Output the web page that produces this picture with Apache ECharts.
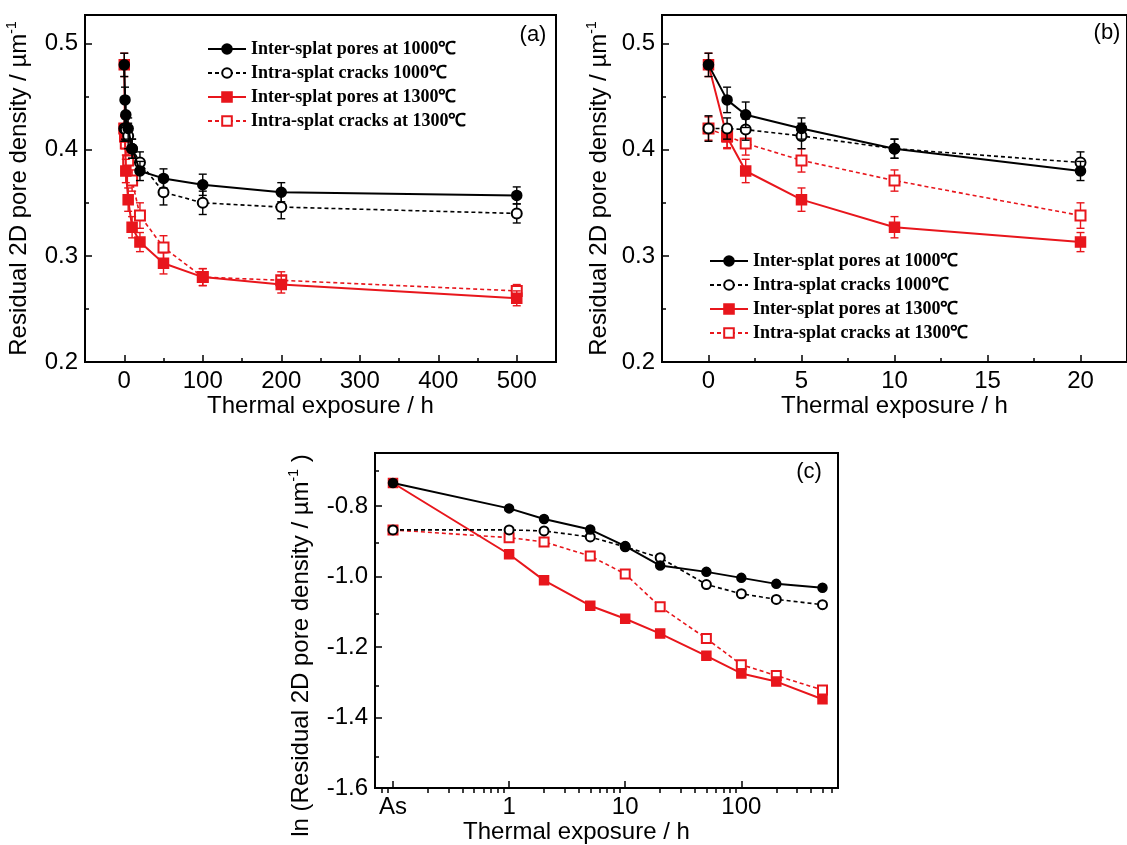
<!DOCTYPE html>
<html><head><meta charset="utf-8">
<script src="https://cdn.jsdelivr.net/npm/echarts@6/dist/echarts.min.js"></script>
<style>html,body{margin:0;padding:0;background:#fff}#c{width:1127px;height:845px}</style>
</head><body><div id="c"></div>
<script>
// ---------------- data ----------------
const seriesNames = ['Inter-splat pores at 1000℃', 'Intra-splat cracks 1000℃', 'Inter-splat pores at 1300℃', 'Intra-splat cracks at 1300℃'];
const hours = [0, 1, 2, 5, 10, 20, 50, 100, 200, 500];
// residual 2D pore density (µm^-1), panels (a) and (b)
const inter1000    = [0.480, 0.447, 0.433, 0.420, 0.401, 0.380, 0.373, 0.367, 0.360, 0.357];
const inter1000Err = [0.011, 0.012, 0.012, 0.010, 0.009, 0.009, 0.009, 0.010, 0.009, 0.008];
const intra1000    = [0.420, 0.420, 0.419, 0.413, 0.401, 0.388, 0.360, 0.350, 0.346, 0.340];
const intra1000Err = [0.012, 0.010, 0.010, 0.012, 0.009, 0.010, 0.012, 0.011, 0.011, 0.009];
const inter1300    = [0.480, 0.412, 0.380, 0.353, 0.327, 0.313, 0.293, 0.280, 0.273, 0.260];
const inter1300Err = [0.011, 0.011, 0.011, 0.011, 0.010, 0.009, 0.010, 0.008, 0.008, 0.007];
const intra1300    = [0.420, 0.413, 0.406, 0.390, 0.371, 0.338, 0.308, 0.280, 0.277, 0.267];
const intra1300Err = [0.011, 0.011, 0.011, 0.011, 0.010, 0.012, 0.011, 0.008, 0.008, 0.006];
// panel (c): ln(density) vs thermal exposure (log axis), "As" = as-sprayed
const hoursC = ['As', 1, 2, 5, 10, 20, 50, 100, 200, 500];
const lnInter1000 = [-0.735, -0.807, -0.837, -0.867, -0.914, -0.969, -0.987, -1.004, -1.021, -1.032];
const lnIntra1000 = [-0.868, -0.868, -0.871, -0.888, -0.916, -0.947, -1.023, -1.049, -1.065, -1.080];
const lnInter1300 = [-0.735, -0.937, -1.011, -1.083, -1.120, -1.162, -1.225, -1.275, -1.298, -1.348];
const lnIntra1300 = [-0.868, -0.890, -0.902, -0.942, -0.993, -1.086, -1.176, -1.250, -1.281, -1.322];
const AS_VALUE = 0.1; // where "As" sits on the log axis
// tick labels
const xTicksA = [0, 100, 200, 300, 400, 500];
const xMinorA = [50, 150, 250, 350, 450];
const xTicksB = [0, 5, 10, 15, 20];
const xMinorB = [2.5, 7.5, 12.5, 17.5];
const yTicksAB = [0.2, 0.3, 0.4, 0.5];
const yMinorAB = [0.25, 0.35, 0.45];
const xTicksC = ['As', 1, 10, 100];
const xMinorC = [0.08, 0.09, 0.2, 0.3, 0.4, 0.5, 0.6, 0.7, 0.8, 0.9, 2, 3, 4, 5, 6, 7, 8, 9, 20, 30, 40, 50, 60, 70, 80, 90, 200, 300, 400, 500, 600];
const yTicksC = [-1.6, -1.4, -1.2, -1.0, -0.8];
const yMinorC = [-1.5, -1.3, -1.1, -0.9, -0.7];

// ---------------- styling ----------------
const RED = '#e8161c';
const SANS = "'Liberation Sans', Arial, sans-serif";
const SERIF = "'Liberation Serif', 'Times New Roman', serif";
const styles = [
  { color: '#000', symbol: 'circle', type: 'solid', width: 2 },
  { color: '#000', symbol: 'emptyCircle', type: [4, 3], width: 1.6 },
  { color: RED, symbol: 'rect', type: 'solid', width: 2 },
  { color: RED, symbol: 'emptyRect', type: [4, 3], width: 1.6 }
];
const valuesAB = [inter1000, intra1000, inter1300, intra1300];
const errsAB = [inter1000Err, intra1000Err, inter1300Err, intra1300Err];
const valuesC = [lnInter1000, lnIntra1000, lnInter1300, lnIntra1300];
const xC = h => (h === 'As' ? AS_VALUE : h);

const gridRects = [
  { left: 85, right: 571, top: 15, bottom: 483 },
  { left: 662, right: -5, top: 15, bottom: 483 },
  { left: 375, right: 289, top: 453, bottom: 52 }
];
const grids = [];
gridRects.forEach(r => grids.push(Object.assign({ show: true, borderColor: '#000', borderWidth: 2, backgroundColor: 'transparent' }, r)));
gridRects.forEach(r => grids.push(Object.assign({ show: false }, r)));

function mainAxis(o) {
  return {
    gridIndex: o.grid, type: o.type || 'value', min: o.min, max: o.max, logBase: 10,
    axisLine: { show: true, onZero: false, lineStyle: { color: '#000', width: 2 } },
    axisTick: { show: true, inside: true, length: 7, customValues: o.ticks, lineStyle: { color: '#000', width: 1.5 } },
    axisLabel: { show: true, customValues: o.ticks, color: '#000', fontSize: 24, fontFamily: SANS, margin: 7, formatter: o.formatter },
    splitLine: { show: false }, minorTick: { show: false },
    name: o.name, nameLocation: 'middle', nameGap: o.nameGap,
    nameTextStyle: { color: '#000', fontSize: 24, fontFamily: SANS, padding: o.namePadding || 0,
      rich: { t: { fontSize: 24, fontFamily: SANS, color: '#000', lineHeight: 28 },
              s: { fontSize: 14, fontFamily: SANS, color: '#000', verticalAlign: 'top', lineHeight: 28, padding: [0, 0, 12, 0] } } }
  };
}
function minorAxis(grid, type, min, max, values) {
  return {
    gridIndex: grid, type: type, min: min, max: max, logBase: 10,
    axisLine: { show: false, onZero: false }, axisLabel: { show: false }, splitLine: { show: false },
    axisTick: { show: true, inside: true, length: 4, customValues: values, lineStyle: { color: '#000', width: 1.5 } }
  };
}
const fmtNum = v => String(v);
const xAxis = [
  mainAxis({ grid: 0, min: -50, max: 550, ticks: xTicksA, formatter: fmtNum, name: 'Thermal exposure / h', nameGap: 29 }),
  mainAxis({ grid: 1, min: -2.5, max: 22.5, ticks: xTicksB, formatter: fmtNum, name: 'Thermal exposure / h', nameGap: 29 }),
  mainAxis({ grid: 2, type: 'log', min: 0.07, max: 680, ticks: xTicksC.map(xC),
    formatter: v => (Math.abs(v - AS_VALUE) < 1e-9 ? 'As' : String(v)), name: 'Thermal exposure / h', nameGap: 28, namePadding: [0, 60, 0, 0] }),
  minorAxis(3, 'value', -50, 550, xMinorA),
  minorAxis(4, 'value', -2.5, 22.5, xMinorB),
  minorAxis(5, 'log', 0.07, 680, xMinorC)
];
const yAxis = [
  mainAxis({ grid: 0, min: 0.2, max: 0.527, ticks: yTicksAB, formatter: v => v.toFixed(1), name: '{t|Residual 2D pore density / µm}{s|-1}', nameGap: 52 }),
  mainAxis({ grid: 1, min: 0.2, max: 0.527, ticks: yTicksAB, formatter: v => v.toFixed(1), name: '{t|Residual 2D pore density / µm}{s|-1}', nameGap: 49 }),
  mainAxis({ grid: 2, min: -1.6, max: -0.65, ticks: yTicksC, formatter: v => v.toFixed(1), name: '{t|ln (Residual 2D pore density / µm}{s|-1}{t| )}', nameGap: 60, namePadding: [0, 50, 0, 0] }),
  minorAxis(3, 'value', 0.2, 0.527, yMinorAB),
  minorAxis(4, 'value', 0.2, 0.527, yMinorAB),
  minorAxis(5, 'value', -1.6, -0.65, yMinorC)
];

function lineSeries(k, axisIdx, data, size, z) {
  const s = styles[k];
  return {
    type: 'line', name: seriesNames[k], xAxisIndex: axisIdx, yAxisIndex: axisIdx, data: data,
    symbol: s.symbol, symbolSize: size, showAllSymbol: true, clip: true, z: z,
    itemStyle: { color: s.color, borderColor: s.color, borderWidth: 1.5 },
    lineStyle: { color: s.color, width: s.width, type: s.type },
    emphasis: { disabled: true }, animation: false
  };
}
function errSeries(k, axisIdx, xs, ys, es, z) {
  const color = styles[k].color;
  return {
    type: 'custom', xAxisIndex: axisIdx, yAxisIndex: axisIdx, silent: true, z: z, animation: false,
    data: xs.map((x, i) => [x, ys[i] - es[i], ys[i] + es[i]]),
    renderItem: function (params, api) {
      const lo = api.coord([api.value(0), api.value(1)]);
      const hi = api.coord([api.value(0), api.value(2)]);
      const w = 4;
      const st = { stroke: color, lineWidth: 1.4 };
      return { type: 'group', children: [
        { type: 'line', shape: { x1: lo[0], y1: lo[1], x2: hi[0], y2: hi[1] }, style: st },
        { type: 'line', shape: { x1: lo[0] - w, y1: lo[1], x2: lo[0] + w, y2: lo[1] }, style: st },
        { type: 'line', shape: { x1: hi[0] - w, y1: hi[1], x2: hi[0] + w, y2: hi[1] }, style: st }
      ] };
    }
  };
}

const series = [];
// z per series: red first, black on top
const zOf = [6, 5, 4, 3];
// panel (a)
[0, 1, 2, 3].forEach(k => series.push(lineSeries(k, 0, hours.map((h, i) => [h, valuesAB[k][i]]), 10, zOf[k])));
[0, 1, 2, 3].forEach(k => series.push(errSeries(k, 0, hours, valuesAB[k], errsAB[k], zOf[k])));
// panel (b): first 20 h
const idxB = hours.map((h, i) => i).filter(i => hours[i] <= 20);
[0, 1, 2, 3].forEach(k => series.push(lineSeries(k, 1, idxB.map(i => [hours[i], valuesAB[k][i]]), 10, zOf[k])));
[0, 1, 2, 3].forEach(k => series.push(errSeries(k, 1, idxB.map(i => hours[i]), idxB.map(i => valuesAB[k][i]), idxB.map(i => errsAB[k][i]), zOf[k])));
// panel (c)
[0, 1, 2, 3].forEach(k => series.push(lineSeries(k, 2, hoursC.map((h, i) => [xC(h), valuesC[k][i]]), 9, zOf[k])));

const legendBase = {
  orient: 'vertical', itemWidth: 38, itemHeight: 12, itemGap: 6, selectedMode: false, data: seriesNames, z: 10,
  textStyle: { fontFamily: SERIF, fontWeight: 'bold', fontSize: 18, color: '#000' }
};

const option = {
  backgroundColor: '#fff', animation: false,
  grid: grids, xAxis: xAxis, yAxis: yAxis, series: series,
  legend: [Object.assign({ left: 202, top: 35 }, legendBase), Object.assign({ left: 704, top: 247 }, legendBase)],
  graphic: [
    { type: 'text', x: 533, y: 35, style: { text: '(a)', font: '22px ' + SANS, fill: '#000', textAlign: 'center', textVerticalAlign: 'middle' } },
    { type: 'text', x: 1107, y: 33, style: { text: '(b)', font: '22px ' + SANS, fill: '#000', textAlign: 'center', textVerticalAlign: 'middle' } },
    { type: 'text', x: 809, y: 472, style: { text: '(c)', font: '22px ' + SANS, fill: '#000', textAlign: 'center', textVerticalAlign: 'middle' } }
  ]
};
const chart = echarts.init(document.getElementById('c'), null, { renderer: 'canvas' });
chart.setOption(option);
</script></body></html>
